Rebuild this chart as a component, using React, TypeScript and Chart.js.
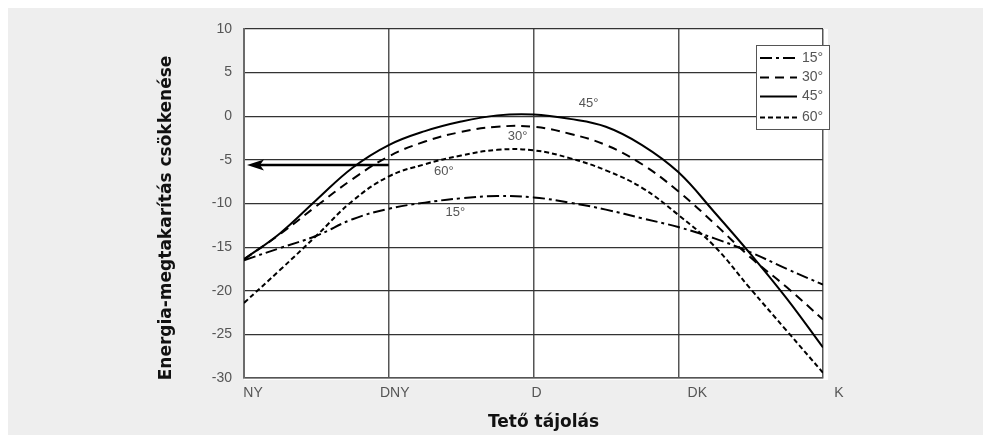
import { useEffect, useRef } from "react";
import { Chart, registerables } from "chart.js";

Chart.register(...registerables);

// ---- data ----
const categories = ["NY", "DNY", "D", "DK", "K"];
const orientPos = [0, 0.25, 0.5, 0.75, 1, 1.25, 1.5, 1.75, 2, 2.25, 2.5, 2.75, 3, 3.25, 3.5, 3.75, 4];
const s15 = [-16.5, -15.1, -13.7, -11.8, -10.6, -9.9, -9.4, -9.15, -9.3, -9.9, -10.7, -11.7, -12.7, -14.0, -15.6, -17.5, -19.3];
const s30 = [-16.4, -13.5, -10.3, -7.2, -4.6, -2.9, -1.8, -1.2, -1.2, -2.0, -3.3, -5.5, -8.6, -12.3, -16.2, -19.6, -23.3];
const s45 = [-16.4, -13.4, -9.6, -5.9, -3.3, -1.7, -0.6, 0.1, 0.2, -0.3, -1.2, -3.3, -6.4, -11.0, -15.8, -20.9, -26.5];
const s60 = [-21.4, -17.6, -13.7, -9.7, -6.9, -5.5, -4.5, -3.85, -3.9, -4.8, -6.2, -8.2, -11.3, -14.9, -19.8, -24.6, -29.4];
const seriesLabels = ["15°", "30°", "45°", "60°"];
const yMin = -30;
const yMax = 10;
const yStep = 5;
const arrowLevel = -5.6;
const arrowFrom = 1.0;
const arrowTo = 0;
const curveLabelText = ["45°", "30°", "60°", "15°"];
const curveLabelX = [2.38, 1.89, 1.38, 1.46];
const curveLabelY = [1.46, -2.33, -6.34, -11.0];
const xTitle = "Tető tájolás";
const yTitle = "Energia-megtakarítás csökkenése";

// ---- styles ----
const dashes = [[12, 4, 3, 4], [9, 6], [], [5, 3]];
const tickFont = "Liberation Sans";
const titleFont = "'DejaVu Sans'";
const labelGrey = "#555";

export default function App() {
  const ref = useRef<HTMLCanvasElement | null>(null);

  useEffect(() => {
    if (!ref.current) return;
    const allSeries = [s15, s30, s45, s60];

    const decorPlugin = {
      id: "decor",
      beforeDraw(chart: any) {
        const { ctx, chartArea } = chart;
        ctx.save();
        ctx.fillStyle = "#ffffff";
        ctx.fillRect(chartArea.left, chartArea.top, chartArea.right - chartArea.left + 5, chartArea.bottom - chartArea.top + 2);
        ctx.restore();
      },
      afterDraw(chart: any) {
        const { ctx, chartArea, scales } = chart;
        const xs = scales.x;
        const ys = scales.y;
        ctx.save();

        // x category labels
        const xOff = [9, 6, 3, 19, 16];
        ctx.font = `14px ${tickFont}`;
        ctx.fillStyle = labelGrey;
        ctx.textAlign = "center";
        ctx.textBaseline = "middle";
        categories.forEach((c, i) => {
          ctx.fillText(c, xs.getPixelForValue(i) + xOff[i], chartArea.bottom + 15);
        });

        // curve labels
        ctx.font = `13px ${tickFont}`;
        curveLabelText.forEach((t, i) => {
          ctx.fillText(t, xs.getPixelForValue(curveLabelX[i]), ys.getPixelForValue(curveLabelY[i]));
        });

        // arrow
        const ay = ys.getPixelForValue(arrowLevel);
        const ax0 = xs.getPixelForValue(arrowFrom);
        const ax1 = xs.getPixelForValue(arrowTo) + 3;
        ctx.strokeStyle = "#000";
        ctx.lineWidth = 2.5;
        ctx.setLineDash([]);
        ctx.beginPath();
        ctx.moveTo(ax0, ay);
        ctx.lineTo(ax1 + 12, ay);
        ctx.stroke();
        ctx.fillStyle = "#000";
        ctx.beginPath();
        ctx.moveTo(ax1, ay);
        ctx.lineTo(ax1 + 17, ay - 5.5);
        ctx.lineTo(ax1 + 13, ay);
        ctx.lineTo(ax1 + 17, ay + 5.5);
        ctx.closePath();
        ctx.fill();

        // legend box
        const bx = chartArea.right - 67;
        const by = chartArea.top + 16;
        const bw = 73;
        const bh = 84;
        ctx.fillStyle = "#fff";
        ctx.fillRect(bx, by, bw, bh);
        ctx.strokeStyle = "#555";
        ctx.lineWidth = 1;
        ctx.strokeRect(bx + 0.5, by + 0.5, bw, bh);
        const rowY = [13, 32.5, 51.5, 72.5];
        seriesLabels.forEach((lab, i) => {
          const yy = by + rowY[i];
          ctx.strokeStyle = "#000";
          ctx.lineWidth = 2;
          ctx.setLineDash(dashes[i]);
          ctx.beginPath();
          ctx.moveTo(bx + 4, yy);
          ctx.lineTo(bx + 41, yy);
          ctx.stroke();
          ctx.setLineDash([]);
          ctx.fillStyle = labelGrey;
          ctx.font = `14px ${tickFont}`;
          ctx.textAlign = "left";
          ctx.textBaseline = "middle";
          ctx.fillText(lab, bx + 46, yy);
        });

        // axis titles
        ctx.fillStyle = "#111";
        ctx.font = `bold 17px ${titleFont}`;
        ctx.textAlign = "center";
        ctx.textBaseline = "middle";
        ctx.fillText(xTitle, 535.5, 415);
        ctx.translate(159, 210);
        ctx.rotate(-Math.PI / 2);
        ctx.fillText(yTitle, 0, 0);
        ctx.restore();
      },
    };

    const chart = new Chart(ref.current, {
      type: "line",
      data: {
        datasets: allSeries.map((s, i) => ({
          label: seriesLabels[i],
          data: s.map((v, k) => ({ x: orientPos[k], y: v })),
          borderColor: "#000",
          borderWidth: 2,
          borderDash: dashes[i],
          pointRadius: 0,
          fill: false,
          tension: 0.4,
        })),
      },
      options: {
        responsive: false,
        animation: false,
        devicePixelRatio: 1,
        layout: { padding: { top: 21, right: 160, bottom: 57, left: 0 } },
        plugins: { legend: { display: false }, tooltip: { enabled: false } },
        scales: {
          x: {
            type: "linear",
            min: 0,
            max: categories.length - 1,
            ticks: { display: false, stepSize: 1 },
            grid: { color: "#555", lineWidth: 1.5, drawTicks: false },
            border: { color: "#555", width: 1.5 },
            afterFit: (s: any) => { s.height = 0; },
          },
          y: {
            min: yMin,
            max: yMax,
            ticks: {
              stepSize: yStep,
              padding: 12,
              color: labelGrey,
              font: { family: tickFont, size: 14 },
            },
            grid: { color: "#333", lineWidth: 1.2, drawTicks: false },
            border: { color: "#6b6b6b", width: 2 },
            afterFit: (s: any) => { s.width = 236; },
          },
        },
      },
      plugins: [decorPlugin],
    });
    return () => chart.destroy();
  }, []);

  return (
    <div style={{ position: "absolute", left: 8, top: 8, width: 975, height: 427, background: "#eeeeee" }}>
      <canvas ref={ref} width={975} height={427} style={{ display: "block" }} />
    </div>
  );
}
